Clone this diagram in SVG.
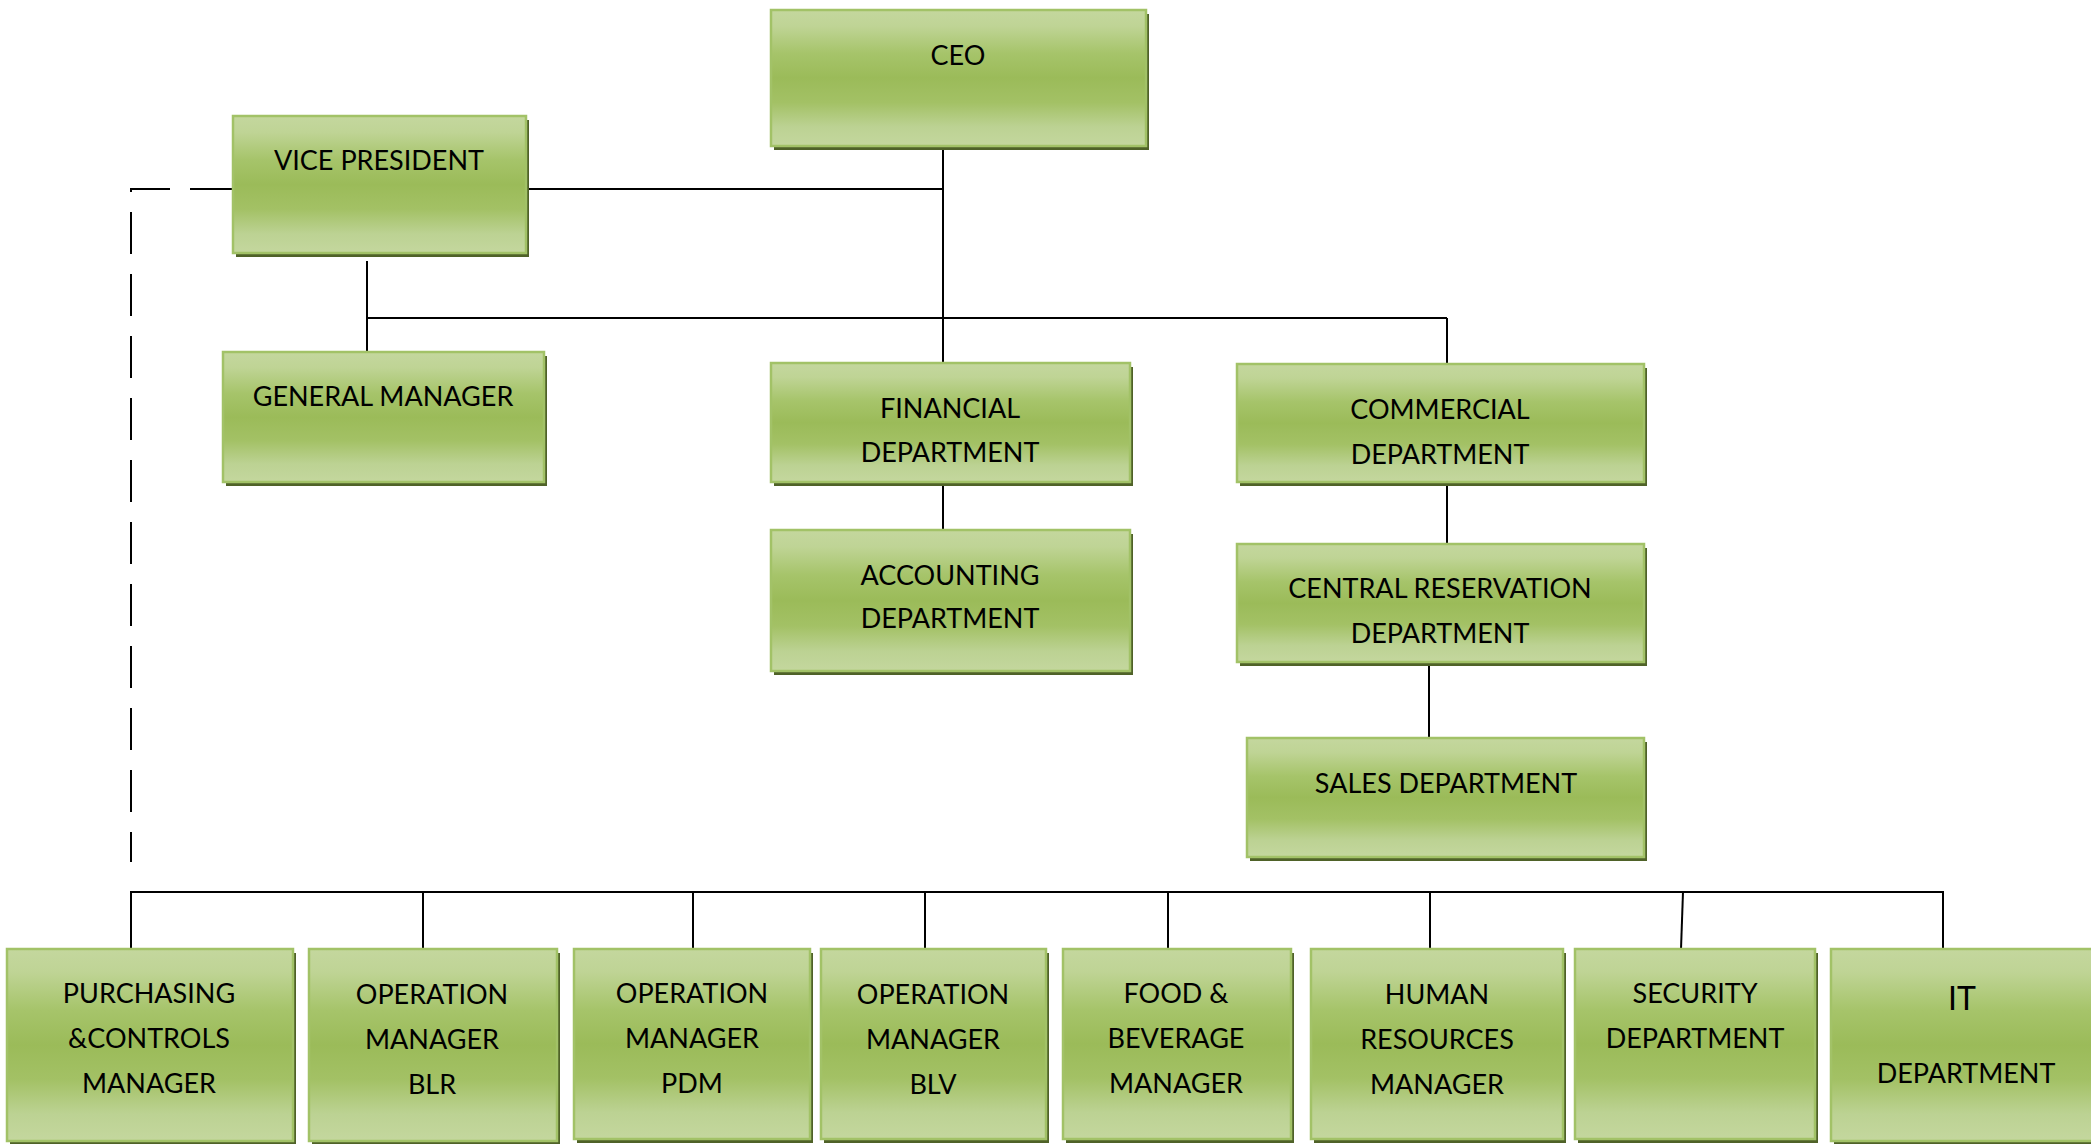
<svg xmlns="http://www.w3.org/2000/svg" width="2091" height="1144" viewBox="0 0 2091 1144">
  <defs>
    <linearGradient id="boxFill" x1="0" y1="0" x2="0" y2="1">
      <stop offset="0" stop-color="#c4d79e"/>
      <stop offset="0.12" stop-color="#bfd495"/>
      <stop offset="0.32" stop-color="#a6c46a"/>
      <stop offset="0.5" stop-color="#9bbb59"/>
      <stop offset="0.68" stop-color="#a3c165"/>
      <stop offset="0.86" stop-color="#bcd293"/>
      <stop offset="1" stop-color="#c4d79e"/>
    </linearGradient>
    <style>
      .shadow { fill: #4f6228; }
      .box { fill: url(#boxFill); stroke: #a2c267; stroke-width: 2.5; }
      .label { font-family: Lato, "Open Sans", sans-serif; font-size: 27px; fill: #000; text-anchor: middle; }
      .big { font-size: 32px; }
      .link { stroke: #000; stroke-width: 2; fill: none; }
      .dashed { stroke-dasharray: 42 20; }
    </style>
  </defs>
  <rect width="2091" height="1144" fill="#fff"/>

  <!-- reporting lines -->
  <g id="connectors">
    <path class="link" d="M943 147 V363"/>
    <path class="link" d="M526 189 H943"/>
    <path class="link" d="M367 318 H1447"/>
    <path class="link" d="M367 261 V352"/>
    <path class="link" d="M1447 318 V364"/>
    <path class="link" d="M943 483 V530"/>
    <path class="link" d="M1447 483 V544"/>
    <path class="link" d="M1429 662 V738"/>
    <path class="link dashed" d="M232 189 H131 V862"/>
    <path class="link" d="M131 949 V892 H1943 V962"/>
    <path class="link" d="M423 892 V949"/>
    <path class="link" d="M693 892 V949"/>
    <path class="link" d="M925 892 V949"/>
    <path class="link" d="M1168 892 V949"/>
    <path class="link" d="M1430 892 V958"/>
    <path class="link" d="M1683 892 L1681 949"/>
  </g>

  <g id="ceo">
    <rect class="shadow" x="774" y="14" width="375" height="136"/>
    <rect class="box" x="771" y="10" width="375" height="136"/>
    <text class="label" x="958" y="65">CEO</text>
  </g>

  <g id="vice-president">
    <rect class="shadow" x="236" y="120" width="293" height="137"/>
    <rect class="box" x="233" y="116" width="293" height="137"/>
    <text class="label" x="379" y="170">VICE PRESIDENT</text>
  </g>

  <g id="general-manager">
    <rect class="shadow" x="226" y="356" width="321" height="130"/>
    <rect class="box" x="223" y="352" width="321" height="130"/>
    <text class="label" x="383" y="406">GENERAL MANAGER</text>
  </g>

  <g id="financial">
    <rect class="shadow" x="774" y="367" width="359" height="119"/>
    <rect class="box" x="771" y="363" width="359" height="119"/>
    <text class="label" x="950" y="418">FINANCIAL</text>
    <text class="label" x="950" y="462">DEPARTMENT</text>
  </g>

  <g id="accounting">
    <rect class="shadow" x="774" y="534" width="359" height="141"/>
    <rect class="box" x="771" y="530" width="359" height="141"/>
    <text class="label" x="950" y="585">ACCOUNTING</text>
    <text class="label" x="950" y="628">DEPARTMENT</text>
  </g>

  <g id="commercial">
    <rect class="shadow" x="1240" y="368" width="407" height="118"/>
    <rect class="box" x="1237" y="364" width="407" height="118"/>
    <text class="label" x="1440" y="419">COMMERCIAL</text>
    <text class="label" x="1440" y="464">DEPARTMENT</text>
  </g>

  <g id="central-reservation">
    <rect class="shadow" x="1240" y="548" width="407" height="118"/>
    <rect class="box" x="1237" y="544" width="407" height="118"/>
    <text class="label" x="1440" y="598">CENTRAL RESERVATION</text>
    <text class="label" x="1440" y="643">DEPARTMENT</text>
  </g>

  <g id="sales">
    <rect class="shadow" x="1250" y="742" width="397" height="119"/>
    <rect class="box" x="1247" y="738" width="397" height="119"/>
    <text class="label" x="1446" y="793">SALES DEPARTMENT</text>
  </g>

  <g id="purchasing">
    <rect class="shadow" x="10" y="953" width="286" height="192"/>
    <rect class="box" x="7" y="949" width="286" height="192"/>
    <text class="label" x="149" y="1003">PURCHASING</text>
    <text class="label" x="149" y="1048">&amp;CONTROLS</text>
    <text class="label" x="149" y="1093">MANAGER</text>
  </g>

  <g id="operation-blr">
    <rect class="shadow" x="312" y="953" width="248" height="192"/>
    <rect class="box" x="309" y="949" width="248" height="192"/>
    <text class="label" x="432" y="1004">OPERATION</text>
    <text class="label" x="432" y="1049">MANAGER</text>
    <text class="label" x="432" y="1094">BLR</text>
  </g>

  <g id="operation-pdm">
    <rect class="shadow" x="577" y="953" width="236" height="190"/>
    <rect class="box" x="574" y="949" width="236" height="190"/>
    <text class="label" x="692" y="1003">OPERATION</text>
    <text class="label" x="692" y="1048">MANAGER</text>
    <text class="label" x="692" y="1093">PDM</text>
  </g>

  <g id="operation-blv">
    <rect class="shadow" x="824" y="953" width="225" height="190"/>
    <rect class="box" x="821" y="949" width="225" height="190"/>
    <text class="label" x="933" y="1004">OPERATION</text>
    <text class="label" x="933" y="1049">MANAGER</text>
    <text class="label" x="933" y="1094">BLV</text>
  </g>

  <g id="food-beverage">
    <rect class="shadow" x="1066" y="953" width="228" height="190"/>
    <rect class="box" x="1063" y="949" width="228" height="190"/>
    <text class="label" x="1176" y="1003">FOOD &amp;</text>
    <text class="label" x="1176" y="1048">BEVERAGE</text>
    <text class="label" x="1176" y="1093">MANAGER</text>
  </g>

  <g id="human-resources">
    <rect class="shadow" x="1314" y="953" width="252" height="190"/>
    <rect class="box" x="1311" y="949" width="252" height="190"/>
    <text class="label" x="1437" y="1004">HUMAN</text>
    <text class="label" x="1437" y="1049">RESOURCES</text>
    <text class="label" x="1437" y="1094">MANAGER</text>
  </g>

  <g id="security">
    <rect class="shadow" x="1578" y="953" width="240" height="190"/>
    <rect class="box" x="1575" y="949" width="240" height="190"/>
    <text class="label" x="1695" y="1003">SECURITY</text>
    <text class="label" x="1695" y="1048">DEPARTMENT</text>
  </g>

  <g id="it">
    <rect class="shadow" x="1834" y="953" width="270" height="192"/>
    <rect class="box" x="1831" y="949" width="270" height="192"/>
    <text class="label big" x="1962" y="1010">IT</text>
    <text class="label" x="1966" y="1083">DEPARTMENT</text>
  </g>
</svg>
